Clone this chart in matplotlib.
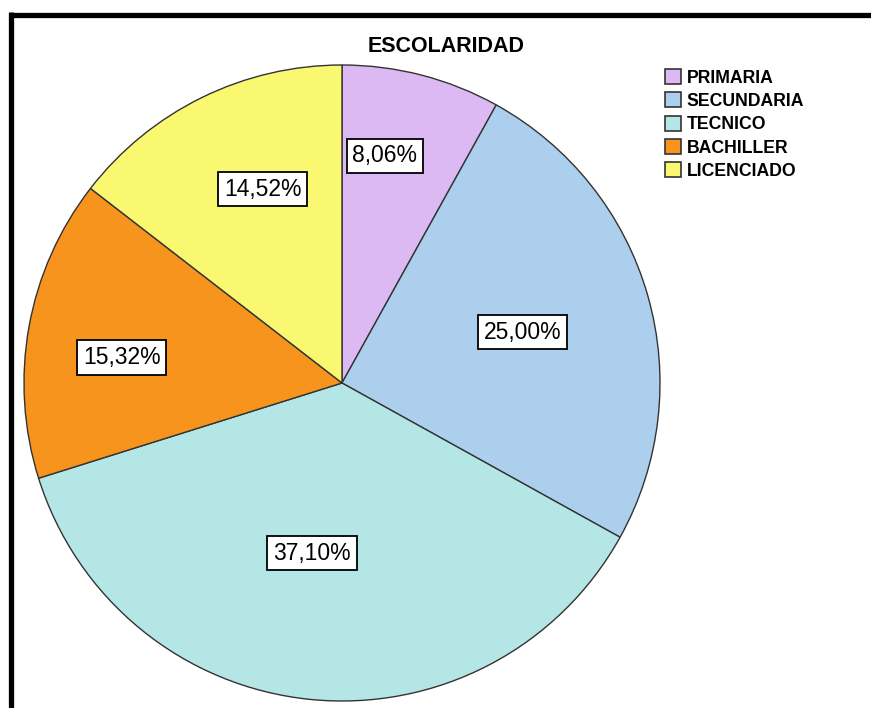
import matplotlib as mpl
import matplotlib.pyplot as plt
import numpy as np
from matplotlib.lines import Line2D
from matplotlib.patches import Patch

# data
categories = ["PRIMARIA", "SECUNDARIA", "TECNICO", "BACHILLER", "LICENCIADO"]
percentages = [8.06, 25.00, 37.10, 15.32, 14.52]
colors = ["#DCB9F2", "#ADCFEE", "#B4E6E6", "#F7941D", "#FAF870"]

# label placement (radius fraction, angular nudge in degrees)
label_dist = [0.727, 0.591, 0.543, 0.697, 0.659]
label_shift = [3.8, -0.3, -4.2, 3.5, -3.9]

mpl.rcParams["font.family"] = ["Liberation Sans", "DejaVu Sans"]

W, H = 871, 708
fig = plt.figure(figsize=(W / 100, H / 100), dpi=100)

# pie axes: centre (342, 383) px, radius 318 px
cx, cy, r = 342, 383, 318
ax = fig.add_axes([(cx - r) / W, (H - cy - r) / H, 2 * r / W, 2 * r / H])
wedges, _ = ax.pie(
    percentages,
    colors=colors,
    startangle=90,
    counterclock=False,
    radius=1.0,
    wedgeprops=dict(edgecolor="#333333", linewidth=1.0),
)
ax.set_xlim(-1, 1)
ax.set_ylim(-1, 1)
ax.set_aspect("equal")
ax.axis("off")

for w, pct, d, sh in zip(wedges, percentages, label_dist, label_shift):
    mid = np.deg2rad((w.theta1 + w.theta2) / 2 + sh)
    txt = f"{pct:.2f}%".replace(".", ",")
    ax.text(
        d * np.cos(mid), d * np.sin(mid), txt,
        ha="center", va="center", fontsize=16.5,
        bbox=dict(boxstyle="square,pad=0.25", facecolor="white",
                  edgecolor="black", linewidth=1.3),
    )

fig.text(446 / W, 1 - 47 / H, "ESCOLARIDAD", ha="center", va="center",
         fontsize=15.5, fontweight="bold")

handles = [Patch(facecolor=c, edgecolor="#333333", linewidth=1.2) for c in colors]
fig.legend(
    handles, categories,
    loc="upper left", bbox_to_anchor=(665 / W, 1 - 69 / H),
    frameon=False, prop=dict(size=12.7, weight="bold"),
    handlelength=0.92, handleheight=0.92, handletextpad=0.32,
    labelspacing=0.33, borderaxespad=0, borderpad=0,
)

# frame lines (top and left)
fig.add_artist(Line2D([10.5 / W, 1], [1 - 14.5 / H, 1 - 14.5 / H],
                      color="black", linewidth=3.8, solid_capstyle="butt"))
fig.add_artist(Line2D([10.5 / W, 10.5 / W], [0, 1 - 12 / H],
                      color="black", linewidth=3.8, solid_capstyle="butt"))

fig.savefig("out.png", dpi=100)
